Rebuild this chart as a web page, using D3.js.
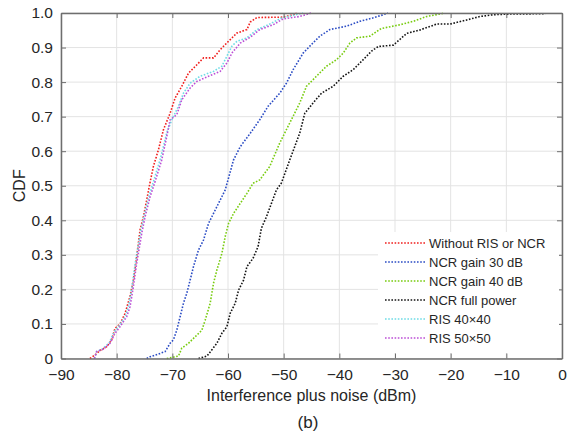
<!DOCTYPE html>
<html>
<head>
<meta charset="utf-8">
<script src="https://cdn.jsdelivr.net/npm/d3@7"></script>
<style>
  body { margin: 0; background: #fff; }
  svg text { font-family: "Liberation Sans", Arial, sans-serif; fill: #262626; }
  .grid line { stroke: #e3e3e3; stroke-width: 1; }
  .axis path, .axis line { stroke: #6e6e6e; }
  .curve { fill: none; stroke-width: 1.6; stroke-dasharray: 1.6 1.6; }
</style>
</head>
<body>
<script>
const xTicks = [-90, -80, -70, -60, -50, -40, -30, -20, -10, 0];
const yTicks = [0, 0.1, 0.2, 0.3, 0.4, 0.5, 0.6, 0.7, 0.8, 0.9, 1.0];

const seriesNames = ["Without RIS or NCR", "NCR gain 30 dB", "NCR gain 40 dB", "NCR full power", "RIS 40\u00d740", "RIS 50\u00d750"];
const seriesColors = ["#f0201e", "#2b4cc4", "#78cc10", "#141414", "#6fdce6", "#bc4fd6"];

// [dBm, CDF]
const withoutRisOrNcr = [[-84.8,0],[-83.9,0.01],[-83.0,0.023],[-81.8,0.034],[-80.9,0.054],[-80.3,0.087],[-79.4,0.10],[-78.5,0.13],[-77.6,0.18],[-77.0,0.227],[-76.4,0.295],[-75.8,0.372],[-75.2,0.41],[-74.6,0.459],[-74.0,0.51],[-73.4,0.556],[-72.5,0.604],[-71.6,0.662],[-70.4,0.71],[-69.5,0.754],[-68.3,0.788],[-67.1,0.826],[-65.3,0.855],[-64.4,0.87],[-62.6,0.87],[-61.4,0.894],[-59.6,0.923],[-58.4,0.942],[-56.6,0.952],[-56.0,0.974],[-54.8,0.987],[-50.1,0.988],[-48.3,0.995],[-47.7,1.0]];
const ncrGain30 = [[-74.6,0],[-74.0,0.005],[-72.5,0.013],[-71.3,0.02],[-70.4,0.044],[-69.8,0.054],[-69.2,0.082],[-68.6,0.121],[-68.0,0.16],[-67.4,0.189],[-66.8,0.227],[-66.2,0.266],[-65.3,0.314],[-64.4,0.343],[-63.5,0.391],[-62.6,0.42],[-61.7,0.449],[-60.5,0.488],[-60.0,0.517],[-59.0,0.575],[-57.8,0.613],[-56.0,0.652],[-54.3,0.691],[-52.8,0.73],[-50.7,0.768],[-49.5,0.797],[-48.3,0.836],[-46.5,0.884],[-45.3,0.904],[-43.5,0.933],[-41.7,0.952],[-38.7,0.962],[-36.3,0.976],[-33.9,0.986],[-32.1,0.995],[-31.3,1.0]];
const ncrGain40 = [[-71.0,0],[-68.9,0.007],[-68.3,0.03],[-67.1,0.044],[-65.9,0.063],[-64.7,0.082],[-64.1,0.111],[-63.2,0.16],[-62.6,0.218],[-62.0,0.256],[-61.1,0.304],[-60.5,0.353],[-59.9,0.391],[-59.0,0.42],[-57.8,0.449],[-56.6,0.478],[-55.5,0.507],[-54.3,0.517],[-52.5,0.556],[-50.7,0.624],[-48.9,0.682],[-47.1,0.74],[-45.9,0.788],[-44.1,0.817],[-42.3,0.846],[-40.5,0.865],[-39.3,0.884],[-38.1,0.913],[-36.9,0.928],[-34.5,0.933],[-32.5,0.955],[-29.1,0.966],[-26.7,0.976],[-24.3,0.99],[-21.6,0.998],[-21.3,1.0]];
const ncrFullPower = [[-65.3,0],[-63.8,0.007],[-62.9,0.025],[-62.0,0.044],[-61.1,0.073],[-60.2,0.092],[-59.6,0.131],[-58.7,0.16],[-58.1,0.198],[-57.2,0.227],[-56.6,0.266],[-55.5,0.29],[-54.6,0.324],[-54.0,0.377],[-53.1,0.41],[-52.2,0.449],[-51.3,0.488],[-50.4,0.508],[-48.9,0.575],[-47.1,0.653],[-46.2,0.71],[-44.7,0.74],[-43.2,0.768],[-41.1,0.788],[-39.3,0.817],[-37.5,0.836],[-35.7,0.865],[-34.2,0.89],[-33.0,0.903],[-30.3,0.907],[-27.9,0.941],[-25.5,0.951],[-22.5,0.968],[-20.1,0.968],[-17.1,0.98],[-14.7,0.99],[-12.3,0.995],[-9.3,0.997],[-3.0,0.998]];
const ris40 = [[-84.0,0],[-83.6,0.02],[-82.5,0.028],[-81.3,0.046],[-80.5,0.076],[-79.6,0.094],[-78.4,0.123],[-77.8,0.155],[-77.2,0.213],[-76.6,0.282],[-75.7,0.366],[-75.1,0.412],[-74.2,0.47],[-73.3,0.517],[-72.2,0.575],[-71.0,0.653],[-70.1,0.691],[-68.9,0.73],[-68.0,0.768],[-66.8,0.797],[-65.0,0.817],[-62.6,0.831],[-61.1,0.846],[-60.2,0.875],[-59.3,0.904],[-58.4,0.918],[-56.6,0.928],[-54.8,0.952],[-52.5,0.968],[-50.5,0.985],[-46.5,1.0]];
const ris50 = [[-84.0,0],[-83.6,0.02],[-82.4,0.027],[-81.2,0.044],[-80.3,0.073],[-79.4,0.092],[-78.2,0.121],[-77.6,0.15],[-77.0,0.208],[-76.4,0.276],[-75.5,0.362],[-74.9,0.41],[-74.0,0.468],[-73.1,0.512],[-71.9,0.575],[-71.0,0.643],[-70.4,0.691],[-69.2,0.706],[-68.3,0.749],[-66.8,0.783],[-65.6,0.802],[-63.5,0.817],[-61.4,0.831],[-60.2,0.855],[-59.3,0.884],[-57.8,0.913],[-56.0,0.93],[-54.3,0.952],[-51.9,0.966],[-50.1,0.983],[-47.1,0.99],[-45.0,1.0]];

const seriesData = [withoutRisOrNcr, ncrGain30, ncrGain40, ncrFullPower, ris40, ris50];

const W = 567, H = 434;
const margin = {left: 61, right: 5, top: 13, bottom: 75.5};
const pw = W - margin.left - margin.right, ph = H - margin.top - margin.bottom;

const svg = d3.select("body").append("svg")
  .attr("width", W)
  .attr("height", H);

const x = d3.scaleLinear().domain([-90, 0]).range([0, pw]);
const y = d3.scaleLinear().domain([0, 1]).range([ph, 0]);

const g = svg.append("g")
  .attr("transform", "translate(" + margin.left + "," + margin.top + ")");

// grid
g.append("g").attr("class", "grid")
  .selectAll("line").data(xTicks).join("line")
  .attr("x1", d => x(d)).attr("x2", d => x(d))
  .attr("y1", 0).attr("y2", ph);
g.append("g").attr("class", "grid")
  .selectAll("line").data(yTicks).join("line")
  .attr("x1", 0).attr("x2", pw)
  .attr("y1", d => y(d)).attr("y2", d => y(d));

// curves
const line = d3.line()
  .x(d => x(d[0]))
  .y(d => y(d[1]));

seriesData.forEach((s, i) => {
  g.append("path")
    .datum(s)
    .attr("class", "curve")
    .attr("stroke", seriesColors[i])
    .attr("d", line);
});

// axes (box with inward ticks)
const fmtX = d => d < 0 ? "\u2212" + Math.abs(d) : String(d);
const fmtY = d => d === 0 ? "0" : d3.format(".1f")(d);

g.append("g").attr("class", "axis")
  .attr("transform", "translate(0," + ph + ")")
  .call(d3.axisBottom(x).tickValues(xTicks).tickFormat(fmtX).tickSizeInner(-5).tickSizeOuter(0).tickPadding(10));
g.append("g").attr("class", "axis")
  .call(d3.axisLeft(y).tickValues(yTicks).tickFormat(fmtY).tickSizeInner(-5).tickSizeOuter(0).tickPadding(8));
g.append("g").attr("class", "axis")
  .call(d3.axisTop(x).tickValues(xTicks).tickFormat("").tickSizeInner(-5).tickSizeOuter(0));
g.append("g").attr("class", "axis")
  .attr("transform", "translate(" + pw + ",0)")
  .call(d3.axisRight(y).tickValues(yTicks).tickFormat("").tickSizeInner(-5).tickSizeOuter(0));

svg.selectAll(".axis path").attr("stroke-width", 1.5);
svg.selectAll(".axis text").attr("font-size", 15.5).attr("fill", "#262626")
  .style("font-family", "'Liberation Sans', Arial, sans-serif");

// legend
const leg = g.append("g")
  .attr("transform", "translate(" + (378 - margin.left) + "," + (232 - margin.top) + ")");
leg.append("rect")
  .attr("width", 181).attr("height", 121)
  .attr("fill", "#fff");
seriesNames.forEach((n, i) => {
  const ly = 11 + i * 19;
  leg.append("line")
    .attr("class", "curve")
    .attr("x1", 7).attr("x2", 47)
    .attr("y1", ly).attr("y2", ly)
    .attr("stroke", seriesColors[i]);
  leg.append("text")
    .attr("x", 51).attr("y", ly + 5)
    .attr("font-size", 13)
    .text(n);
});

// labels
svg.append("text")
  .attr("x", margin.left + pw / 2)
  .attr("y", 401)
  .attr("text-anchor", "middle")
  .attr("font-size", 16)
  .text("Interference plus noise (dBm)");

svg.append("text")
  .attr("transform", "translate(25," + (margin.top + ph / 2) + ") rotate(-90)")
  .attr("text-anchor", "middle")
  .attr("font-size", 16)
  .text("CDF");

svg.append("text")
  .attr("x", 308)
  .attr("y", 428)
  .attr("text-anchor", "middle")
  .attr("font-size", 17)
  .text("(b)");
</script>
</body>
</html>
